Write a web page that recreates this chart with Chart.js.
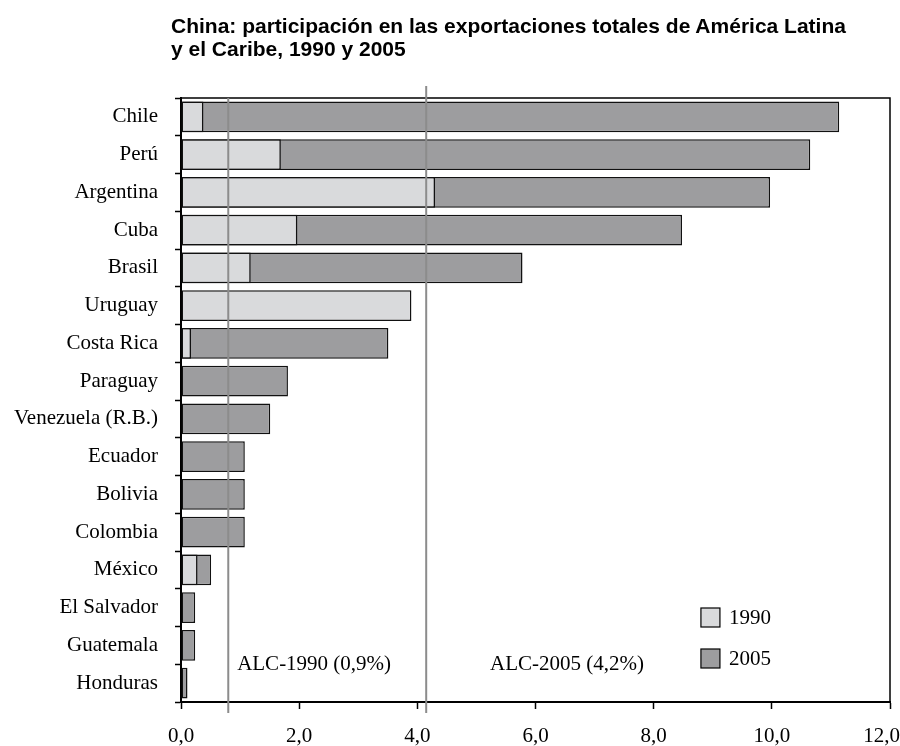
<!DOCTYPE html>
<html>
<head>
<meta charset="utf-8">
<script src="https://cdn.jsdelivr.net/npm/chart.js@4.4.1/dist/chart.umd.min.js"></script>
<style>
  body { margin: 0; background: #fff; }
  #wrap { position: relative; width: 900px; height: 746px; }
  #myChart { position: absolute; left: 0; top: 0; }
  #title {
    position: absolute; left: 171px; top: 14px;
    font: bold 21px 'Liberation Sans', Arial, sans-serif;
    line-height: 23px; color: #000; white-space: nowrap;
  }
</style>
</head>
<body>
<div id="wrap">
  <canvas id="myChart" width="900" height="746"></canvas>
  <div id="title">China: participación en las exportaciones totales de América Latina<br>y el Caribe, 1990 y 2005</div>
</div>
<script>
// paesi (asse y)
const countries = ['Chile', 'Perú', 'Argentina', 'Cuba', 'Brasil', 'Uruguay', 'Costa Rica', 'Paraguay',
  'Venezuela (R.B.)', 'Ecuador', 'Bolivia', 'Colombia', 'México', 'El Salvador', 'Guatemala', 'Honduras'];
// quota 1990 (%)
const share1990 = [0.38, 1.69, 4.3, 1.97, 1.18, 3.9, 0.17, 0, 0, 0, 0, 0, 0.28, 0, 0, 0];
// quota 2005 (%)
const share2005 = [11.14, 10.65, 9.97, 8.48, 5.78, null, 3.51, 1.81, 1.51, 1.08, 1.08, 1.08, 0.51, 0.24, 0.24, 0.11];
// media regionale
const alcValues = [0.8, 4.15];
const alcLabels = ['ALC-1990 (0,9%)', 'ALC-2005 (4,2%)'];
const alcLabelAt = [0.95, 5.23];
const seriesNames = ['1990', '2005'];
const xTicks = [0, 2, 4, 6, 8, 10, 12];

const serif = "'Liberation Serif', 'Times New Roman', serif";
const light = '#d9dadc';
const dark = '#9d9d9f';
const fmt = (v) => v.toFixed(1).replace('.', ',');

// cornice, linee ALC, etichette asse x e legenda
const extras = {
  id: 'extras',
  afterDatasetsDraw(chart) {
    const c = chart.ctx;
    const a = chart.chartArea;
    const x = chart.scales.x;
    const y = chart.scales.y;
    c.save();
    // cornice sopra e a destra
    c.strokeStyle = '#000';
    c.lineWidth = 1.5;
    c.beginPath();
    c.moveTo(a.left, a.top);
    c.lineTo(a.right, a.top);
    c.lineTo(a.right, a.bottom);
    c.stroke();
    // linee verticali
    c.strokeStyle = '#8c8c8c';
    c.lineWidth = 2;
    alcValues.forEach((v, i) => {
      const px = x.getPixelForValue(v);
      c.beginPath();
      c.moveTo(px, i === 0 ? a.top : a.top - 12);
      c.lineTo(px, a.bottom + 11);
      c.stroke();
    });
    // etichette ALC
    c.fillStyle = '#000';
    c.font = '21px ' + serif;
    c.textBaseline = 'middle';
    const ly = (y.getPixelForValue(14) + y.getPixelForValue(15)) / 2;
    alcLabels.forEach((t, i) => {
      c.fillText(t, x.getPixelForValue(alcLabelAt[i]), ly);
    });
    // etichette asse x (l'ultima resta dentro il canvas)
    c.textAlign = 'center';
    xTicks.forEach((v) => {
      const t = fmt(v);
      const w = c.measureText(t).width;
      const px = Math.min(x.getPixelForValue(v), chart.width - w / 2);
      c.fillText(t, px, a.bottom + 34);
    });
    // legenda
    c.textAlign = 'left';
    const cols = [light, dark];
    const bx = x.getPixelForValue(8.8);
    seriesNames.forEach((n, i) => {
      const by = a.bottom - 94 + i * 41;
      c.fillStyle = cols[i];
      c.fillRect(bx, by, 19, 19);
      c.strokeStyle = '#000';
      c.lineWidth = 1.2;
      c.strokeRect(bx, by, 19, 19);
      c.fillStyle = '#000';
      c.fillText(n, bx + 28, by + 10);
    });
    c.restore();
  }
};

const ctx = document.getElementById('myChart');
new Chart(ctx, {
  type: 'bar',
  data: {
    labels: countries,
    datasets: [{
      label: seriesNames[0],
      data: share1990,
      backgroundColor: light,
      borderColor: '#111',
      borderWidth: 1.5,
      borderSkipped: false,
      grouped: false,
      barPercentage: 0.82,
      categoryPercentage: 1
    }, {
      label: seriesNames[1],
      data: share2005,
      backgroundColor: dark,
      borderColor: '#111',
      borderWidth: 1.5,
      borderSkipped: false,
      grouped: false,
      barPercentage: 0.82,
      categoryPercentage: 1
    }]
  },
  options: {
    indexAxis: 'y',
    responsive: false,
    animation: false,
    devicePixelRatio: 1,
    layout: { padding: { top: 98, right: 10, left: 0, bottom: 0 } },
    plugins: {
      legend: { display: false },
      tooltip: { enabled: false }
    },
    scales: {
      x: {
        min: 0,
        max: 12,
        afterBuildTicks: (s) => { s.ticks = xTicks.map(v => ({ value: v })); },
        afterFit: (s) => { s.height = 44; s.paddingLeft = 0; s.paddingRight = 0; },
        ticks: { display: false },
        grid: { drawOnChartArea: false, color: '#000', tickLength: 7, tickWidth: 1.5 },
        border: { color: '#000', width: 2 }
      },
      y: {
        afterFit: (s) => { s.width = 181; },
        ticks: {
          color: '#000',
          padding: 17,
          font: { family: serif, size: 21 }
        },
        grid: { offset: true, drawOnChartArea: false, color: '#000', tickLength: 6, tickWidth: 1.5 },
        border: { color: '#000', width: 2 }
      }
    }
  },
  plugins: [extras]
});
</script>
</body>
</html>
